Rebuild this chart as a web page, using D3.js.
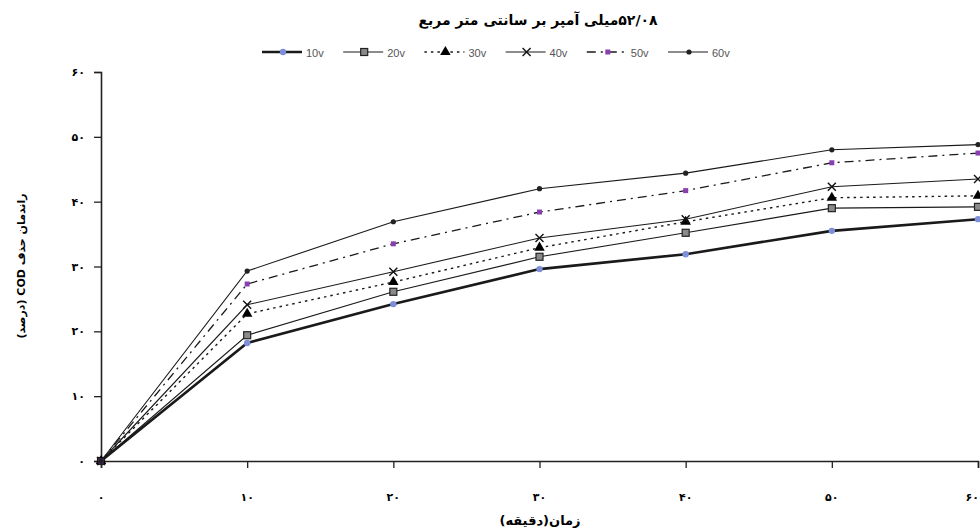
<!DOCTYPE html>
<html>
<head>
<meta charset="utf-8">
<script src="https://cdn.jsdelivr.net/npm/d3@7"></script>
<style>
  body { margin: 0; background: #fff; }
  svg { display: block; }
  text { font-family: "DejaVu Sans", sans-serif; }
</style>
</head>
<body>
<svg id="chart" width="980" height="532"></svg>
<script>
// time in minutes
const times = [0, 10, 20, 30, 40, 50, 60];
const seriesNames = ['10v', '20v', '30v', '40v', '50v', '60v'];
const v10 = [0, 18.2, 24.2, 29.6, 31.9, 35.5, 37.3];
const v20 = [0, 19.4, 26.1, 31.5, 35.2, 39.0, 39.2];
const v30 = [0, 22.7, 27.6, 32.9, 36.9, 40.6, 40.9];
const v40 = [0, 24.1, 29.2, 34.4, 37.3, 42.3, 43.5];
const v50 = [0, 27.3, 33.5, 38.4, 41.7, 46.0, 47.5];
const v60 = [0, 29.3, 36.9, 42.0, 44.4, 48.0, 48.8];
const xTickLabels = ['۰', '۱۰', '۲۰', '۳۰', '۴۰', '۵۰', '۶۰'];
const yTickLabels = ['۰', '۱۰', '۲۰', '۳۰', '۴۰', '۵۰', '۶۰'];
const title = '۵۲/۰۸میلی آمپر بر سانتی متر مربع';
const xTitle = 'زمان(دقیقه)';
const yTitle = 'راندمان حذف COD (درصد)';

const allValues = [v10, v20, v30, v40, v50, v60];

const svg = d3.select('#chart');
const margin = {left: 101, right: 2, top: 72, bottom: 71};
const width = 980 - margin.left - margin.right;
const height = 532 - margin.top - margin.bottom;

const x = d3.scaleLinear().domain([0, 60]).range([0, width]);
const y = d3.scaleLinear().domain([0, 60]).range([height, 0]);

// style per series
const styles = [
  {width: 2.6, dash: null, marker: 'dot', fill: '#7d8fd8', size: 3.2},
  {width: 1.1, dash: null, marker: 'square', fill: '#8a8a8a', size: 7},
  {width: 1.4, dash: '2.5,4', marker: 'triangle', fill: '#000', size: 8},
  {width: 1.1, dash: null, marker: 'cross', fill: 'none', size: 8},
  {width: 1.3, dash: '9,5,2,5', marker: 'square', fill: '#8a3fb0', size: 5, noStroke: true},
  {width: 1.1, dash: null, marker: 'dot', fill: '#222', size: 2.6}
];

const g = svg.append('g').attr('transform', 'translate(' + margin.left + ',' + margin.top + ')');

// axes
const xAxis = d3.axisBottom(x).tickValues(times).tickSize(7).tickFormat('');
const yAxis = d3.axisLeft(y).tickValues(times).tickSize(7).tickFormat('');

const gx = g.append('g').attr('transform', 'translate(0,' + height + ')').call(xAxis);
const gy = g.append('g').call(yAxis);
[gx, gy].forEach(a => {
  a.select('.domain').attr('stroke', '#222').attr('stroke-width', 1.6);
  a.selectAll('.tick line').attr('stroke', '#222').attr('stroke-width', 1.3);
});

g.selectAll('.xlab')
  .data(times)
  .enter().append('text')
  .attr('x', (d, i) => i === times.length - 1 ? width + 1 : x(d))
  .attr('y', height + 40)
  .attr('text-anchor', (d, i) => i === times.length - 1 ? 'end' : 'middle')
  .style('font-size', '11px')
  .style('font-weight', 'bold')
  .text((d, i) => xTickLabels[i]);

g.selectAll('.ylab')
  .data(times)
  .enter().append('text')
  .attr('x', -16)
  .attr('y', d => y(d) + 4)
  .attr('text-anchor', 'end')
  .style('font-size', '11px')
  .style('font-weight', 'bold')
  .text((d, i) => yTickLabels[i]);

// lines
const line = d3.line()
  .x((d, i) => x(times[i]))
  .y(d => y(d));

function drawMarker(sel, st) {
  const s = st.size;
  if (st.marker === 'dot') {
    sel.append('circle').attr('r', s).attr('fill', st.fill).attr('stroke', 'none');
  } else if (st.marker === 'square') {
    sel.append('rect').attr('x', -s / 2).attr('y', -s / 2).attr('width', s).attr('height', s)
      .attr('fill', st.fill).attr('stroke', st.noStroke ? 'none' : '#222').attr('stroke-width', 1.2);
  } else if (st.marker === 'triangle') {
    sel.append('path').attr('d', d3.symbol(d3.symbolTriangle, s * s * 0.75)())
      .attr('fill', st.fill);
  } else if (st.marker === 'cross') {
    sel.append('path').attr('d', 'M' + (-s / 2) + ',' + (-s / 2) + 'L' + (s / 2) + ',' + (s / 2) +
      'M' + (-s / 2) + ',' + (s / 2) + 'L' + (s / 2) + ',' + (-s / 2))
      .attr('stroke', '#111').attr('stroke-width', 1.4).attr('fill', 'none');
  }
}

allValues.forEach((vals, k) => {
  const st = styles[k];
  g.append('path')
    .datum(vals)
    .attr('d', line)
    .attr('fill', 'none')
    .attr('stroke', '#1a1a1a')
    .attr('stroke-width', st.width)
    .attr('stroke-dasharray', st.dash);

  g.selectAll('.m' + k)
    .data(vals)
    .enter().append('g')
    .attr('transform', (d, i) => 'translate(' + x(times[i]) + ',' + y(d) + ')')
    .each(function() { drawMarker(d3.select(this), st); });
});

// legend
const legend = svg.append('g').attr('transform', 'translate(262,52)');
seriesNames.forEach((name, k) => {
  const st = styles[k];
  const item = legend.append('g').attr('transform', 'translate(' + (k * 81.2) + ',0)');
  item.append('line')
    .attr('x1', 0).attr('x2', 40).attr('y1', 0).attr('y2', 0)
    .attr('stroke', '#1a1a1a')
    .attr('stroke-width', st.width)
    .attr('stroke-dasharray', st.dash);
  drawMarker(item.append('g').attr('transform', 'translate(21,0)'), st);
  item.append('text')
    .attr('x', 44).attr('y', 5)
    .style('font-family', 'Liberation Sans, sans-serif')
    .style('font-size', '11px')
    .style('fill', '#555')
    .text(name);
});

// titles
svg.append('text')
  .attr('x', 538).attr('y', 25)
  .attr('text-anchor', 'middle')
  .attr('direction', 'rtl')
  .style('font-size', '14px')
  .style('font-weight', 'bold')
  .text(title);

svg.append('text')
  .attr('x', 540).attr('y', 525)
  .attr('text-anchor', 'middle')
  .attr('direction', 'rtl')
  .style('font-size', '13px')
  .style('font-weight', 'bold')
  .text(xTitle);

svg.append('text')
  .attr('transform', 'translate(25,266) rotate(-90)')
  .attr('text-anchor', 'middle')
  .attr('direction', 'rtl')
  .style('font-size', '11px')
  .style('font-weight', 'bold')
  .text(yTitle);
</script>
</body>
</html>
